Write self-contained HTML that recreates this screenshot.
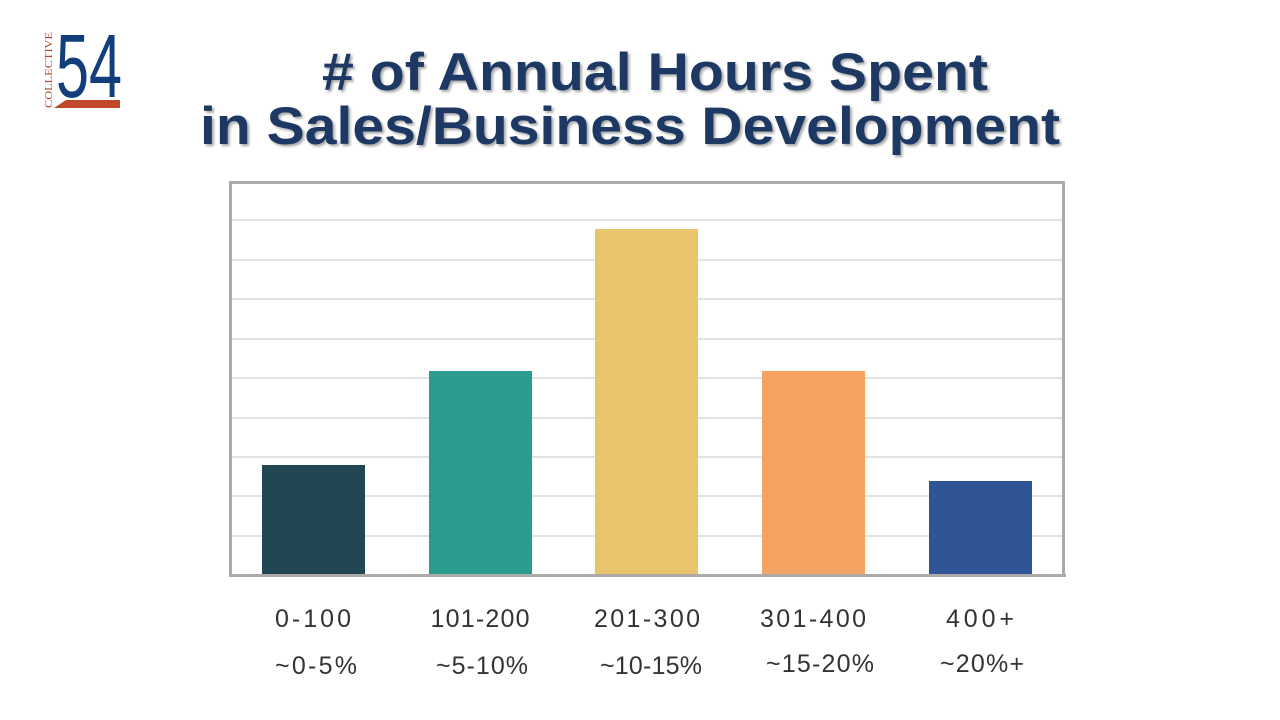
<!DOCTYPE html>
<html><head><meta charset="utf-8"><style>
html,body{margin:0;padding:0;background:#fff;width:1280px;height:720px;overflow:hidden}
</style></head><body>
<svg width="1280" height="720" xmlns="http://www.w3.org/2000/svg" font-family="Liberation Sans, sans-serif">
<defs><filter id="sh" x="-5%" y="-20%" width="110%" height="140%"><feDropShadow dx="2" dy="2" stdDeviation="1.2" flood-color="#000" flood-opacity="0.35"/></filter></defs>
<!-- logo -->
<text x="52" y="108" font-family="Liberation Serif, serif" font-size="10.5" fill="#b5462a" transform="rotate(-90 52 108)" textLength="76" lengthAdjust="spacingAndGlyphs">COLLECTIVE</text>
<text x="56" y="97" font-size="90" fill="#123f7c" textLength="66" lengthAdjust="spacingAndGlyphs">54</text>
<polygon points="54,108 66,100 120,100 120,108" fill="#c0492a"/>
<!-- title -->
<g fill="#1f3864" font-weight="bold" font-size="53" text-anchor="middle" filter="url(#sh)">
<text x="655" y="90" textLength="666" lengthAdjust="spacingAndGlyphs">#  of Annual Hours Spent</text>
<text x="630" y="144" textLength="860" lengthAdjust="spacingAndGlyphs">in Sales/Business Development</text>
</g>
<!-- grid -->
<g stroke="#d9d9d9" stroke-width="1.5">
<line x1="232" x2="1062" y1="220" y2="220"/><line x1="232" x2="1062" y1="260" y2="260"/>
<line x1="232" x2="1062" y1="299" y2="299"/><line x1="232" x2="1062" y1="339" y2="339"/>
<line x1="232" x2="1062" y1="378" y2="378"/><line x1="232" x2="1062" y1="418" y2="418"/>
<line x1="232" x2="1062" y1="457" y2="457"/><line x1="232" x2="1062" y1="496" y2="496"/>
<line x1="232" x2="1062" y1="536" y2="536"/>
</g>
<rect x="230.5" y="182.5" width="833" height="393" fill="none" stroke="#adaaa9" stroke-width="3"/>
<!-- bars -->
<rect x="262" y="465" width="103" height="110" fill="#234752"/>
<rect x="429" y="371" width="103" height="204" fill="#2a9d8f"/>
<rect x="595" y="229" width="103" height="346" fill="#e8c46d"/>
<rect x="762" y="371" width="103" height="204" fill="#f3a261"/>
<rect x="929" y="481" width="103" height="94" fill="#2f5597"/>
<line x1="229" x2="1066" y1="575.5" y2="575.5" stroke="#adaaa9" stroke-width="3"/>
<!-- labels -->
<g fill="#333" font-size="25" text-anchor="middle" lengthAdjust="spacingAndGlyphs">
<text x="313" y="627" textLength="76">0-100</text><text x="480" y="627" textLength="99">101-200</text><text x="647" y="627" textLength="106">201-300</text><text x="813" y="627" textLength="106">301-400</text><text x="980" y="627" textLength="68">400+</text>
<text x="316" y="674" textLength="82">~0-5%</text><text x="482" y="674" textLength="92">~5-10%</text><text x="651" y="674" textLength="102">~10-15%</text><text x="820" y="672" textLength="108">~15-20%</text><text x="982" y="672" textLength="84">~20%+</text>
</g>
</svg>
</body></html>
